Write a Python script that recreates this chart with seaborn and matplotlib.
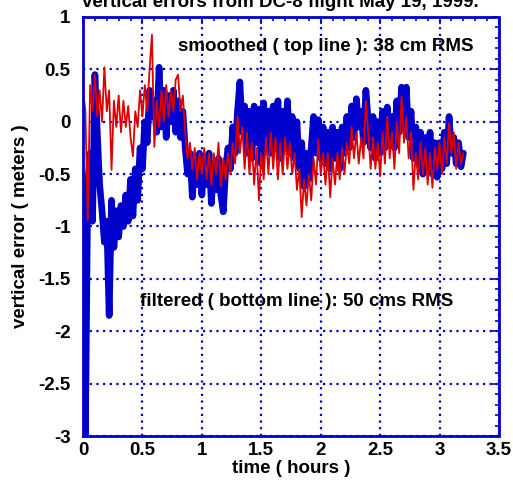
import numpy as np
import pandas as pd
import matplotlib
matplotlib.use("Agg")
import matplotlib.pyplot as plt
import seaborn as sns
from matplotlib.ticker import MultipleLocator

# vertical error (m), sampled every 0.02 h
filtered = [
    -2.0, -3.0, -0.6, -0.3, -0.95, 0.45, -0.1, -0.6, -0.85, -1.15,
    -0.95, -1.85, -0.75, -1.2, -0.85, -1.1, -0.8, -1.0, -0.7, -0.95,
    -0.55, -0.9, -0.45, -0.75, -0.25, -0.45, 0.0, -0.2, 0.3, 0.05,
    0.2, -0.1, 0.52, -0.05, 0.3, -0.15, 0.25, 0.0, 0.3, -0.1,
    0.2, -0.15, 0.1, -0.25, -0.5, -0.3, -0.72, -0.35, -0.6, -0.3,
    -0.7, -0.35, -0.6, -0.3, -0.78, -0.4, -0.65, -0.35, -0.7, -0.86,
    -0.45, -0.25, -0.45, -0.05, -0.3, 0.1, 0.38, -0.1, 0.15, -0.3,
    0.1, -0.35, 0.15, -0.2, 0.12, -0.4, 0.18, -0.25, 0.1, -0.3,
    0.15, -0.2, 0.2, -0.35, 0.1, -0.2, 0.2, -0.3, 0.05, -0.35,
    0.0, -0.45, -0.2, -0.62, -0.3, -0.55, -0.25, 0.05, -0.3, 0.02,
    -0.35, -0.05, -0.4, -0.1, -0.45, -0.05, -0.35, -0.1, -0.45, -0.05,
    -0.3, 0.05, -0.25, 0.15, -0.15, 0.22, -0.05, 0.1, -0.2, 0.3,
    0.0, -0.25, 0.05, -0.35, 0.0, -0.3, 0.1, -0.25, 0.14, -0.2,
    0.05, -0.25, 0.2, -0.1, 0.33, -0.05, 0.33, -0.15, 0.1, -0.35,
    -0.05, -0.4, -0.1, -0.5, -0.15, -0.45, -0.1, -0.5, -0.2, -0.53,
    -0.2, -0.45, -0.1, -0.4, 0.05, -0.3, -0.15, -0.4, -0.2, -0.43,
    -0.3,
]

smoothed = [
    0.3, 0.1, -0.94, 0.35, 0.1, 0.45, 0.05, 0.3, 0.0, 0.52,
    0.1, 0.3, -0.46, 0.2, -0.05, 0.25, -0.1, 0.2, -0.05, 0.15,
    -0.15, -0.33, 0.1, -0.05, 0.3, 0.05, 0.35, 0.1, 0.5, 0.83,
    -0.24, 0.2, -0.05, 0.3, 0.0, 0.35, 0.05, 0.3, 0.1, 0.4,
    0.45, 0.1, 0.25, -0.1, -0.35, -0.2, -0.45, -0.25, -0.55, -0.3,
    -0.5, -0.25, -0.55, -0.3, -0.6, -0.3, -0.5, -0.2, -0.62, -0.35,
    -0.55, -0.3, -0.5, -0.2, -0.4, 0.05, -0.3, -0.05, -0.45, -0.1,
    -0.5, -0.2, -0.6, -0.25, -0.75, -0.3, -0.55, -0.15, -0.5, -0.1,
    -0.45, -0.15, -0.55, -0.2, -0.5, -0.15, -0.45, -0.2, -0.5, -0.3,
    -0.65, -0.45, -0.91, -0.55, -0.8, -0.5, -0.75, -0.35, -0.6, -0.17,
    -0.5, -0.3, -0.6, -0.3, -0.72, -0.35, -0.6, -0.3, -0.55, -0.25,
    -0.5, -0.2, -0.4, -0.05, -0.35, -0.1, -0.4, -0.15, -0.35, 0.2,
    -0.1, -0.45, -0.15, -0.45, -0.2, -0.52, -0.1, -0.4, 0.05, -0.35,
    -0.1, -0.45, 0.0, -0.3, 0.24, -0.2, 0.05, -0.35, -0.1, -0.65,
    -0.3, -0.55, -0.2, -0.5, -0.25, -0.6, -0.3, -0.63, -0.25, -0.45,
    -0.2, -0.5, -0.15, -0.4, -0.01, -0.3, -0.1, -0.45, -0.2, -0.4,
    -0.3,
]

x_ticks = [0, 0.5, 1, 1.5, 2, 2.5, 3, 3.5]
y_ticks = [-3, -2.5, -2, -1.5, -1, -0.5, 0, 0.5, 1]

BLUE = "#0000cc"
RED = "#dd0000"

df_f = pd.DataFrame({"hours": np.arange(len(filtered)) * 0.02, "err": filtered})
df_s = pd.DataFrame({"hours": np.arange(len(smoothed)) * 0.02, "err": smoothed})

sns.set_style("white")
plt.rcParams["font.family"] = ["Liberation Sans", "DejaVu Sans"]
plt.rcParams["font.weight"] = "bold"
plt.rcParams["text.color"] = "black"
plt.rcParams["xtick.labelcolor"] = "black"
plt.rcParams["ytick.labelcolor"] = "black"

fig = plt.figure(figsize=(5.13, 4.91), dpi=100)
ax = fig.add_axes([0.1618, 0.112, 0.8109, 0.8534])

sns.lineplot(data=df_f, x="hours", y="err", color=BLUE, lw=4.8, ax=ax)
sns.lineplot(data=df_s, x="hours", y="err", color=RED, lw=1.3, ax=ax)

ax.set_xlim(0, 3.5)
ax.set_ylim(-3, 1)
ax.set_xticks(x_ticks)
ax.set_yticks(y_ticks)
ax.set_xticklabels([f"{v:g}" for v in x_ticks])
ax.set_yticklabels([f"{v:g}" for v in y_ticks])
ax.xaxis.set_minor_locator(MultipleLocator(0.1))
ax.yaxis.set_minor_locator(MultipleLocator(0.1))
ax.tick_params(which="both", direction="in", color=BLUE, top=True, right=True,
               labelsize=13.5, width=1.2, labelcolor="black")
ax.tick_params(which="major", length=5)
ax.tick_params(which="minor", length=3)
ax.tick_params(axis="y", pad=9)
ax.tick_params(axis="x", pad=4)
for lab in ax.get_xticklabels() + ax.get_yticklabels():
    lab.set_fontweight("bold")

ax.grid(True, which="major", color=BLUE, linestyle=(0, (1, 2)), lw=1.6)
for sp in ax.spines.values():
    sp.set_color(BLUE)
    sp.set_linestyle((0, (1, 1)))
    sp.set_linewidth(2)

ax.set_xlabel("")
ax.set_ylabel("")
fig.text(0.567, 0.045, "time ( hours )", ha="center", va="center",
         fontsize=13.5, fontweight="bold", color="black")
fig.text(0.039, 0.54, "vertical error ( meters )", ha="center", va="center",
         rotation=90, fontsize=13.5, fontweight="bold", color="black")
fig.text(0.546, 0.9857, "vertical errors from DC-8 flight May 19, 1999.",
         ha="center", va="baseline", fontsize=13.5, fontweight="bold", color="black")

ax.text(0.8, 0.72, "smoothed ( top line ): 38 cm RMS", ha="left", va="center",
        fontsize=13.5, fontweight="bold", color="black")
ax.text(0.48, -1.72, "filtered ( bottom line ): 50 cms RMS", ha="left", va="center",
        fontsize=13.5, fontweight="bold", color="black")

fig.savefig("out.png", dpi=100)
